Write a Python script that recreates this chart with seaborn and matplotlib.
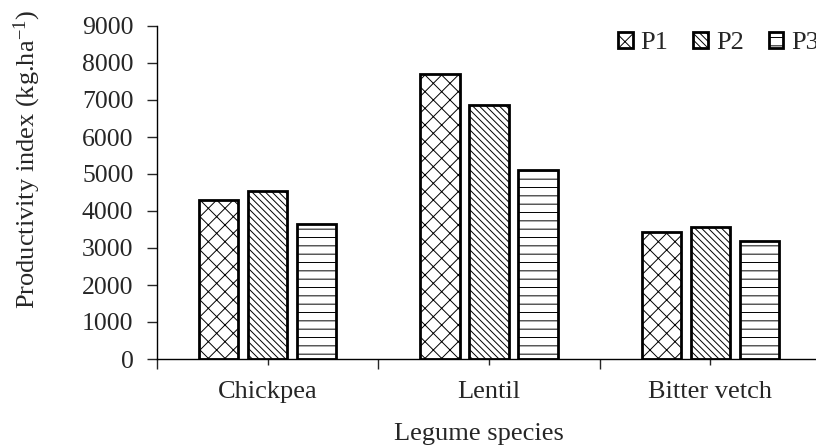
import matplotlib
matplotlib.use("Agg")
import matplotlib.pyplot as plt
from matplotlib.patches import Patch
from matplotlib.ticker import FixedLocator
import seaborn as sns
import pandas as pd

# values
species = ["Chickpea", "Lentil", "Bitter vetch"]
treatments = ["P1", "P2", "P3"]
p1 = [4300, 7700, 3440]
p2 = [4540, 6870, 3560]
p3 = [3650, 5100, 3200]
hatches = ["xx", "\\\\\\\\\\", "--"]

df = pd.DataFrame({
    "species": species * 3,
    "treatment": [t for t in treatments for _ in species],
    "value": p1 + p2 + p3,
})

sns.set_style("ticks")
plt.rcParams["font.family"] = ["Liberation Serif", "DejaVu Serif"]
plt.rcParams["mathtext.fontset"] = "custom"
plt.rcParams["mathtext.rm"] = "Liberation Serif"
plt.rcParams["mathtext.it"] = "Liberation Serif:italic"
plt.rcParams["hatch.linewidth"] = 0.7
plt.rcParams["hatch.color"] = "black"

fs = 19

fig = plt.figure(figsize=(8.16, 4.46), dpi=100)
ax = fig.add_axes([157 / 816, 87 / 446, 664 / 816, 333 / 446])

sns.barplot(data=df, x="species", y="value", hue="treatment",
            order=species, hue_order=treatments,
            palette=["white"] * 3, edgecolor="black", linewidth=2.0,
            width=0.665, gap=0.2, legend=False, ax=ax)

for cont, h in zip(ax.containers, hatches):
    for bar in cont:
        bar.set_hatch(h)

ax.set_xlim(-0.5, 2.5)
ax.set_ylim(0, 9000)
ax.set_yticks(range(0, 9001, 1000))
ax.xaxis.set_minor_locator(FixedLocator([-0.5, 0.5, 1.5, 2.5]))
ax.tick_params(axis="x", which="major", length=4, width=1, pad=12, labelsize=fs)
ax.tick_params(axis="x", which="minor", length=7, width=1)
ax.tick_params(axis="y", length=7, width=1, pad=10, labelsize=18.5)
sns.despine(ax=ax)
for s in ["left", "bottom"]:
    ax.spines[s].set_linewidth(1)
    ax.spines[s].set_color("black")

ax.set_xlabel("Legume species", fontsize=fs, labelpad=14)
ax.xaxis.label.set_x(0.485)
ax.set_ylabel(r"Productivity index (kg.ha$^{-1}$)", fontsize=19)
ax.yaxis.set_label_coords(-0.171, 0.6)

handles = [Patch(facecolor="white", edgecolor="black", hatch=h, linewidth=2.0, label=t)
           for t, h in zip(treatments, hatches)]
fig.legend(handles=handles, loc="center left", bbox_to_anchor=(618 / 816, 1 - 43 / 446),
           ncol=3, frameon=False, fontsize=fs, handlelength=0.55, handleheight=0.55,
           handletextpad=0.3, columnspacing=0.95, borderpad=0, borderaxespad=0)

fig.savefig("out.png", dpi=100)
